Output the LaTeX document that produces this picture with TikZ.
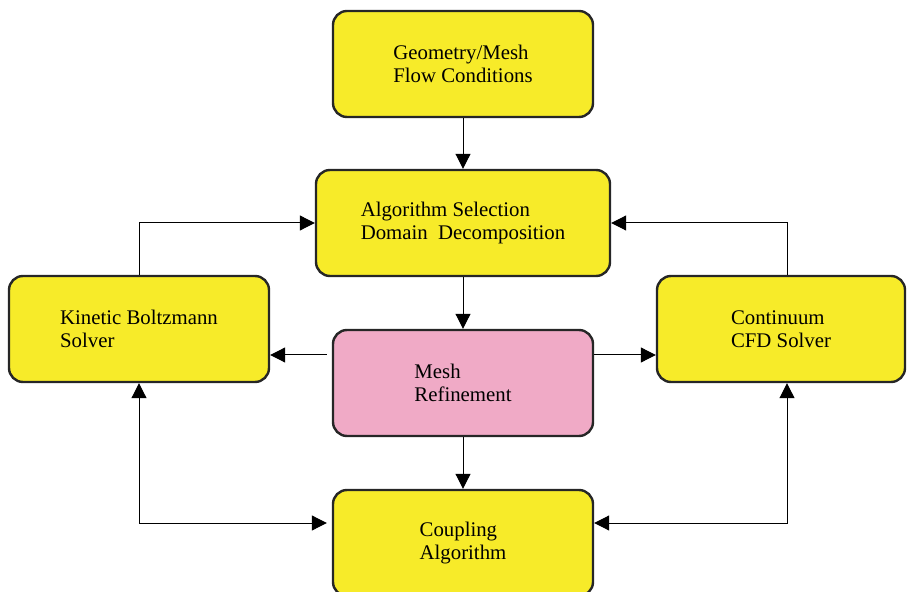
\documentclass[tikz,border=0pt]{standalone}
\usepackage{fontspec}
\setmainfont{Liberation Serif}
\usetikzlibrary{positioning}
\usetikzlibrary{calc}
\usetikzlibrary{arrows.meta}

\definecolor{boxyellow}{RGB}{247,235,41}
\definecolor{boxpink}{RGB}{240,170,198}
\definecolor{boxedge}{RGB}{38,38,38}

\begin{document}
\begin{tikzpicture}[
    x=0.5pt, y=-0.5pt,
    >={Triangle[length=7.5pt,width=7.5pt]},
    every node/.style={font=\fontsize{10.4}{11.4}\selectfont},
    block/.style={draw=boxedge, line width=1.2pt, rounded corners=7pt, fill=boxyellow, minimum width=130pt, minimum height=53pt, align=left, inner sep=0pt},
    refine/.style={block, fill=boxpink},
    link/.style={->, line width=0.5pt}
]
\clip (0,0) rectangle (908,592);

\node[block] (geom) at (463,64) {Geometry/Mesh\\Flow Conditions};
\node[block, minimum width=147pt] (algo) at (463,223) {Algorithm Selection\\Domain\ \ Decomposition};
\node[block] (kinetic) at (139,329) {Kinetic Boltzmann\\Solver};
\node[refine] (mesh) at (463,383) {Mesh\\Refinement};
\node[block, minimum width=124pt] (cfd) at (781,329) {Continuum\\CFD Solver};
\node[block] (coupling) at (463,543) {Coupling\\Algorithm};

\draw[link] (geom) -- (algo);
\draw[link] (algo) -- (mesh);
\draw[link] (mesh) -- (coupling);

\draw[link, shorten <=2.5pt] ([yshift=14pt]mesh.west) -- ([yshift=14pt]mesh.west -| kinetic.east);
\draw[link] ([yshift=14pt]mesh.east) -- ([yshift=14pt]mesh.east -| cfd.west);

\draw[link] (kinetic.north) |- (algo.west);
\draw[link] ([xshift=3pt]cfd.north) |- (algo.east);

\draw[link, <->, shorten >=2.5pt] (kinetic.south) |- ([yshift=10pt]coupling.west);
\draw[link, <->] ([xshift=3pt]cfd.south) |- ([yshift=10pt]coupling.east);
\end{tikzpicture}
\end{document}
